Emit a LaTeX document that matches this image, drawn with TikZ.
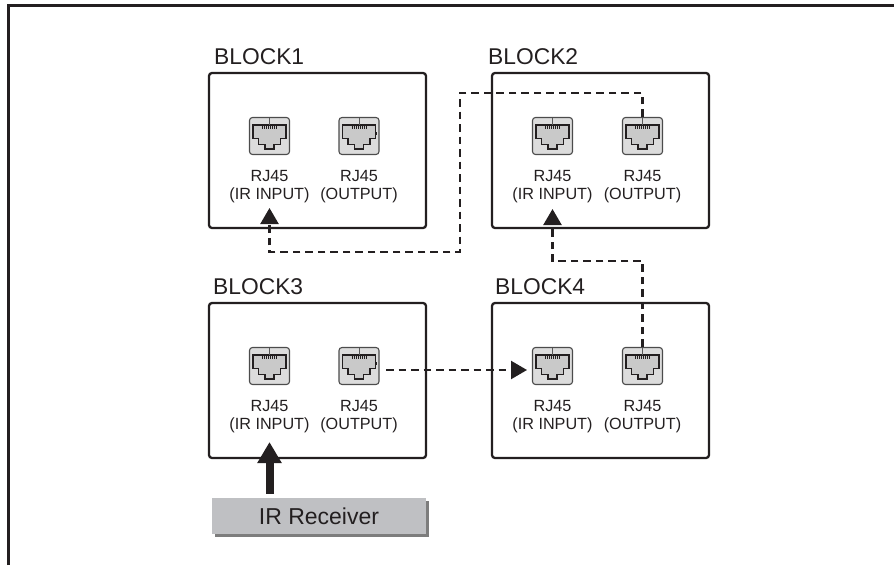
\documentclass[tikz,border=0pt]{standalone}
\usepackage{fontspec}
\setmainfont{Liberation Sans}
\usetikzlibrary{arrows.meta,shadows}
\definecolor{ink}{HTML}{231F20}
\definecolor{jackouter}{HTML}{DCDCDC}
\definecolor{jackinner}{HTML}{C9C9C9}
\definecolor{recvfill}{HTML}{BFC0C3}
\definecolor{recvshadow}{HTML}{7D7D7D}
\tikzset{
  blockbox/.style={draw=ink, line width=2.3pt, rounded corners=3pt, minimum width=217pt, minimum height=155pt, inner sep=0pt},
  jackbox/.style={draw=gray!60!black, fill=jackouter, line width=1.1pt, rounded corners=3pt, minimum width=40pt, minimum height=37pt, inner sep=0pt},
  jackline/.style={draw=ink, fill=jackinner, line width=1.4pt, line join=miter},
  blocklbl/.style={font=\fontsize{22.8}{26}\selectfont, text=ink, inner sep=0pt, anchor=base west},
  lbl/.style={font=\fontsize{16.2}{19}\selectfont, text=ink, inner sep=0pt, anchor=base},
  dashconn/.style={draw=ink, line width=2.3pt, dash pattern=on 7.5pt off 5pt, -{Triangle[length=16pt,width=18pt]}},
  bigarrow/.style={draw=ink, line width=8pt, -{Triangle[length=21pt,width=23pt]}},
  recvbox/.style={fill=recvfill, minimum width=214pt, minimum height=36pt, inner sep=0pt, font=\fontsize{23}{26}\selectfont, text=ink,
    drop shadow={shadow xshift=3pt, shadow yshift=-3pt, fill=recvshadow, opacity=1}}
}
\newcommand\rjport[5]{%
  \node[jackbox] (#1) at (#2,#3) {};
  \begin{scope}[shift={(#1.center)}]
    \draw[jackline] (-16.5,-11) -- (16.5,-11) -- (16.5,2.5) -- (11,2.5) -- (11,8.5) -- (4.5,8.5) -- (4.5,13) -- (-4.5,13) -- (-4.5,8.5) -- (-11,8.5) -- (-11,2.5) -- (-16.5,2.5) -- cycle;
    \draw[gray!70!black, line width=0.7pt] (0,-18.5) -- (0,-11);
    \draw[ink, line width=2.5pt, dash pattern=on 1.3pt off 0.7pt] (-7.5,-8.5) -- (7.5,-8.5);
    \fill[ink] (-17.5,-4) rectangle (-16,-1.5);
    \fill[ink] (16,-4) rectangle (17.5,-1.5);
  \end{scope}
  \node[lbl] (#1a) at (#2,#3+45) {#4};
  \node[lbl] (#1b) at (#2,#3+63.5) {#5};
}
\begin{document}
\begin{tikzpicture}[x=1pt,y=-1pt]
\useasboundingbox (0,0) rectangle (894,565);
% frame
\draw[ink, line width=2.5pt] (8.5,565) -- (8.5,5.5) -- (894,5.5);
% blocks
\node[blockbox] (blk1) at (317.5,150.5) {};
\node[blockbox] (blk2) at (600.5,150.5) {};
\node[blockbox] (blk3) at (317.5,380.5) {};
\node[blockbox] (blk4) at (600.5,380.5) {};
\node[blocklbl] (lbl1) at (214,64) {BLOCK1};
\node[blocklbl] (lbl2) at (488,64) {BLOCK2};
\node[blocklbl] (lbl3) at (213,294) {BLOCK3};
\node[blocklbl] (lbl4) at (495,294) {BLOCK4};
% ports
\rjport{b1in}{269.5}{136}{RJ45}{(IR INPUT)}
\rjport{b1out}{359}{136}{RJ45}{(OUTPUT)}
\rjport{b2in}{552.5}{136}{RJ45}{(IR INPUT)}
\rjport{b2out}{642.5}{136}{RJ45}{(OUTPUT)}
\rjport{b3in}{269.5}{366}{RJ45}{(IR INPUT)}
\rjport{b3out}{359}{366}{RJ45}{(OUTPUT)}
\rjport{b4in}{552.5}{366}{RJ45}{(IR INPUT)}
\rjport{b4out}{642.5}{366}{RJ45}{(OUTPUT)}
% receiver
\node[recvbox] (recv) at (319,516) {IR Receiver};
% connectors
\coordinate (tip1) at (269.5,208);
\coordinate (k1) at (460,93);
\coordinate (k2) at (460,252);
\draw[dashconn] (b2out.north) |- (k1) -- (k2) -| (tip1);
\coordinate (tip2) at (552.5,209);
\coordinate (k3) at (642.5,261);
\draw[dashconn] (b4out.north) -- (k3) -| (tip2);
\coordinate (s3) at (386,370);
\coordinate (tip3) at (527,370);
\draw[dashconn] (s3) -- (tip3);
\coordinate (tip4) at (269.5,442);
\draw[bigarrow, shorten <=4pt] (recv.north -| b3in) -- (tip4);
\end{tikzpicture}
\end{document}
